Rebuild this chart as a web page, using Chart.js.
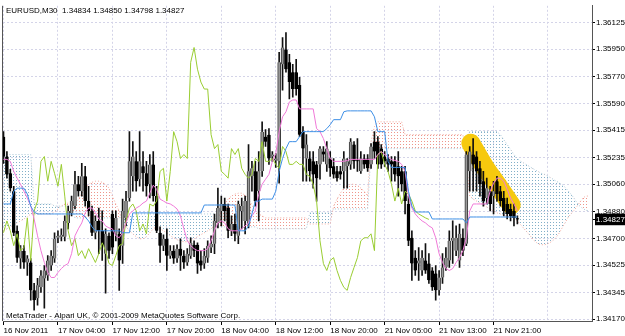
<!DOCTYPE html>
<html><head><meta charset="utf-8">
<script src="https://cdn.jsdelivr.net/npm/chart.js@4.4.1/dist/chart.umd.min.js"></script>
<style>html,body{margin:0;padding:0;background:#fff;}#wrap{width:625px;height:336px;}</style>
</head><body><div id="wrap"><canvas id="c" width="625" height="336"></canvas></div>
<script>
const symbolTitle = 'EURUSD,M30  1.34834 1.34850 1.34798 1.34827';
const footerText = 'MetaTrader - Alpari UK, \u00A9 2001-2009 MetaQuotes Software Corp.';
const xTickBars = [0,16,32,48,64,80,96,112,128,144,160];
const xTickLabels = ['16 Nov 2011','17 Nov 04:00','17 Nov 12:00','17 Nov 20:00','18 Nov 04:00','18 Nov 12:00','18 Nov 20:00','21 Nov 05:00','21 Nov 13:00','21 Nov 21:00'];
const yTickValues = [1.36125,1.35950,1.35770,1.35590,1.35415,1.35235,1.35060,1.34880,1.34700,1.34525,1.34345,1.34170];
const lastPrice = 1.34827;

const open = [1.35373,1.35242,1.35131,1.35013,1.34752,1.34569,1.34621,1.34543,1.34543,1.34359,
1.34307,1.34379,1.34438,1.34457,1.34523,1.34569,1.34706,1.34712,1.34712,1.34804,
1.34870,1.34915,1.35059,1.35013,1.35111,1.34948,1.34883,1.34739,1.34817,1.34752,
1.34601,1.34719,1.34863,1.34732,1.34732,1.34654,1.34837,1.34968,1.35111,1.35210,
1.35092,1.35177,1.35131,1.35059,1.35190,1.34981,1.34739,1.34654,1.34699,1.34588,
1.34621,1.34569,1.34634,1.34588,1.34543,1.34588,1.34660,1.34660,1.34556,1.34536,
1.34575,1.34641,1.34667,1.34804,1.34883,1.34929,1.34902,1.34752,1.34797,1.34719,
1.34883,1.34817,1.34797,1.35111,1.35144,1.35013,1.35144,1.35373,1.35386,1.35242,
1.35216,1.35210,1.35850,1.35948,1.35863,1.35798,1.35798,1.35713,1.35406,1.35229,
1.35229,1.35210,1.35190,1.35190,1.35275,1.35190,1.35229,1.35177,1.35144,1.35144,
1.35144,1.35177,1.35190,1.35321,1.35216,1.35144,1.35229,1.35229,1.35190,1.35340,
1.35340,1.35294,1.35242,1.35229,1.35210,1.35210,1.35177,1.35144,1.35144,1.34929,
1.34706,1.34575,1.34536,1.34490,1.34556,1.34536,1.34490,1.34471,1.34359,1.34444,
1.34510,1.34556,1.34686,1.34621,1.34556,1.34706,1.34667,1.35144,1.35255,1.35242,
1.35164,1.35079,1.34968,1.35013,1.34981,1.35079,1.35013,1.34968,1.34929,1.34896,
1.34883,1.34834];
const high = [1.35406,1.35275,1.35157,1.35046,1.34784,1.34654,1.34654,1.34588,1.34569,1.34405,
1.34438,1.34490,1.34523,1.34588,1.34621,1.34739,1.34752,1.34765,1.34850,1.34915,
1.34981,1.35144,1.35111,1.35197,1.35177,1.35046,1.34915,1.34850,1.34902,1.34883,
1.34765,1.34739,1.34883,1.34883,1.34765,1.34961,1.35013,1.35406,1.35340,1.35275,
1.35406,1.35275,1.35210,1.35255,1.35275,1.35046,1.34778,1.34726,1.34765,1.34654,
1.34654,1.34660,1.34699,1.34621,1.34634,1.34706,1.34686,1.34673,1.34621,1.34634,
1.34686,1.34719,1.34863,1.35033,1.34981,1.34968,1.34929,1.34850,1.34863,1.34948,
1.34968,1.34981,1.35321,1.35210,1.35210,1.35275,1.35471,1.35419,1.35426,1.35275,
1.35262,1.35929,1.36027,1.36060,1.35916,1.35850,1.35883,1.35765,1.35439,1.35386,
1.35275,1.35275,1.35210,1.35308,1.35308,1.35340,1.35275,1.35229,1.35177,1.35177,
1.35275,1.35229,1.35360,1.35340,1.35360,1.35275,1.35255,1.35255,1.35327,1.35406,
1.35373,1.35321,1.35275,1.35255,1.35242,1.35242,1.35275,1.35177,1.35177,1.34981,
1.34752,1.34621,1.34641,1.34621,1.34667,1.34601,1.34510,1.34523,1.34490,1.34601,
1.34641,1.34752,1.34817,1.34784,1.34797,1.34765,1.35275,1.35308,1.35360,1.35275,
1.35210,1.35144,1.35099,1.35046,1.35079,1.35111,1.35046,1.35013,1.34968,1.34929,
1.34929,1.34850];
const low = [1.35197,1.35099,1.35013,1.34719,1.34543,1.34503,1.34503,1.34457,1.34294,1.34229,
1.34261,1.34346,1.34242,1.34425,1.34490,1.34543,1.34673,1.34686,1.34686,1.34765,
1.34850,1.34896,1.34981,1.34981,1.34915,1.34850,1.34719,1.34699,1.34601,1.34556,
1.34340,1.34569,1.34601,1.34686,1.34359,1.34536,1.34784,1.34948,1.35013,1.35013,
1.35046,1.35013,1.34981,1.34968,1.34948,1.34739,1.34543,1.34621,1.34490,1.34569,
1.34536,1.34543,1.34490,1.34503,1.34523,1.34569,1.34582,1.34471,1.34490,1.34503,
1.34543,1.34608,1.34601,1.34771,1.34784,1.34817,1.34706,1.34719,1.34686,1.34667,
1.34765,1.34732,1.34771,1.35013,1.34915,1.34817,1.35111,1.35308,1.35190,1.35210,
1.35170,1.35066,1.35680,1.35798,1.35621,1.35634,1.35647,1.35373,1.35079,1.35079,
1.35079,1.35033,1.34948,1.35092,1.35210,1.35144,1.35111,1.35099,1.35079,1.35092,
1.35033,1.35033,1.35157,1.35164,1.35144,1.35131,1.35164,1.35144,1.35164,1.35229,
1.35164,1.35164,1.35177,1.35144,1.35079,1.35079,1.34981,1.35013,1.34863,1.34654,
1.34425,1.34457,1.34425,1.34457,1.34471,1.34405,1.34359,1.34294,1.34327,1.34405,
1.34490,1.34510,1.34536,1.34588,1.34510,1.34588,1.34654,1.35013,1.35013,1.35013,
1.34981,1.34915,1.34929,1.34883,1.34863,1.34948,1.34915,1.34850,1.34830,1.34817,
1.34784,1.34798];
const close = [1.35242,1.35124,1.35033,1.34739,1.34575,1.34621,1.34543,1.34569,1.34359,1.34294,
1.34392,1.34457,1.34490,1.34556,1.34588,1.34699,1.34719,1.34726,1.34817,1.34883,
1.34948,1.35059,1.35013,1.35111,1.34948,1.34883,1.34739,1.34817,1.34752,1.34654,
1.34732,1.34621,1.34641,1.34837,1.34556,1.34883,1.34948,1.35210,1.35242,1.35079,
1.35210,1.35131,1.35046,1.35190,1.34981,1.34752,1.34654,1.34699,1.34588,1.34621,
1.34569,1.34634,1.34588,1.34543,1.34601,1.34673,1.34621,1.34536,1.34523,1.34588,
1.34654,1.34667,1.34817,1.34902,1.34929,1.34883,1.34752,1.34797,1.34732,1.34929,
1.34915,1.34948,1.35144,1.35164,1.34948,1.35144,1.35406,1.35340,1.35229,1.35255,
1.35229,1.35863,1.35961,1.35818,1.35733,1.35687,1.35687,1.35386,1.35294,1.35321,
1.35144,1.35124,1.35099,1.35294,1.35255,1.35294,1.35164,1.35124,1.35099,1.35124,
1.35229,1.35210,1.35340,1.35210,1.35210,1.35229,1.35190,1.35164,1.35308,1.35275,
1.35190,1.35190,1.35210,1.35190,1.35190,1.35124,1.35111,1.35059,1.34948,1.34686,
1.34536,1.34490,1.34556,1.34575,1.34490,1.34425,1.34379,1.34359,1.34444,1.34510,
1.34575,1.34686,1.34706,1.34706,1.34732,1.34621,1.35255,1.35275,1.35190,1.35144,
1.35059,1.34948,1.35033,1.34929,1.35013,1.34994,1.34948,1.34883,1.34863,1.34850,
1.34837,1.34827];
const tenkan = [1.35223,1.35223,1.35210,1.35144,1.35099,1.35059,1.35013,1.34968,1.34915,1.34830,
1.34719,1.34621,1.34543,1.34477,1.34444,1.34444,1.34477,1.34503,1.34523,1.34536,
1.34601,1.34719,1.34765,1.34804,1.34870,1.34902,1.34902,1.34870,1.34830,1.34817,
1.34784,1.34771,1.34765,1.34719,1.34706,1.34739,1.34804,1.34863,1.34883,1.34902,
1.34915,1.34935,1.34948,1.35000,1.35053,1.35026,1.34961,1.34948,1.34935,1.34929,
1.34915,1.34896,1.34850,1.34765,1.34686,1.34654,1.34634,1.34621,1.34621,1.34621,
1.34634,1.34686,1.34752,1.34804,1.34817,1.34804,1.34765,1.34752,1.34752,1.34752,
1.34765,1.34784,1.34804,1.34850,1.34883,1.34994,1.35059,1.35092,1.35124,1.35210,
1.35262,1.35406,1.35504,1.35537,1.35602,1.35615,1.35615,1.35556,1.35556,1.35556,
1.35556,1.35556,1.35426,1.35406,1.35360,1.35294,1.35229,1.35210,1.35210,1.35210,
1.35210,1.35216,1.35223,1.35223,1.35223,1.35223,1.35223,1.35223,1.35223,1.35223,
1.35255,1.35275,1.35255,1.35242,1.35223,1.35216,1.35210,1.35190,1.35144,1.34981,
1.34902,1.34863,1.34837,1.34817,1.34804,1.34784,1.34771,1.34706,1.34601,1.34543,
1.34503,1.34490,1.34503,1.34543,1.34575,1.34621,1.34706,1.34883,1.34929,1.34929,
1.34929,1.34929,1.34929,1.35013,1.35066,1.35099,1.35099,1.35079,1.35026,1.34968,
1.34929,1.34883];
const kijun = [1.34929,1.34929,1.34929,1.35013,1.35033,1.35033,1.35033,1.34994,1.34915,1.34876,
1.34863,1.34863,1.34863,1.34863,1.34863,1.34863,1.34863,1.34863,1.34863,1.34863,
1.34863,1.34863,1.34863,1.34863,1.34843,1.34817,1.34778,1.34752,1.34752,1.34752,
1.34752,1.34752,1.34752,1.34752,1.34752,1.34739,1.34739,1.34739,1.34870,1.34870,
1.34870,1.34870,1.34870,1.34870,1.34870,1.34870,1.34870,1.34870,1.34870,1.34870,
1.34870,1.34870,1.34870,1.34870,1.34870,1.34870,1.34870,1.34870,1.34870,1.34922,
1.34922,1.34922,1.34922,1.34922,1.34922,1.34922,1.34922,1.34922,1.34922,1.34752,
1.34752,1.34752,1.34784,1.34863,1.34948,1.34948,1.34961,1.34961,1.34961,1.34961,
1.35013,1.35144,1.35229,1.35294,1.35340,1.35340,1.35340,1.35373,1.35406,1.35406,
1.35406,1.35406,1.35406,1.35406,1.35406,1.35426,1.35452,1.35485,1.35485,1.35485,
1.35537,1.35543,1.35543,1.35543,1.35543,1.35543,1.35543,1.35543,1.35543,1.35504,
1.35406,1.35406,1.35406,1.35210,1.35170,1.35170,1.35170,1.35170,1.35170,1.35013,
1.34915,1.34876,1.34876,1.34876,1.34876,1.34876,1.34830,1.34830,1.34830,1.34830,
1.34830,1.34830,1.34830,1.34830,1.34830,1.34830,1.34804,1.34843,1.34843,1.34843,
1.34843,1.34843,1.34843,1.34843,1.34843,1.34843,1.34843,1.34843,1.34843,1.34843,
1.34843,1.34843];
const senkouA = [1.34752,1.34765,1.34778,1.34791,1.34804,1.34817,1.34830,1.34843,1.34863,1.34863,
1.34863,1.34863,1.34863,1.34863,1.34863,1.34876,1.34896,1.34915,1.34929,1.34935,
1.34929,1.34929,1.34961,1.35000,1.35033,1.35059,1.35072,1.35079,1.35079,1.35072,
1.35059,1.35033,1.34981,1.34929,1.34883,1.34804,1.34778,1.34752,1.34732,1.34713,
1.34699,1.34699,1.34713,1.34739,1.34765,1.34778,1.34765,1.34752,1.34739,1.34719,
1.34706,1.34693,1.34686,1.34680,1.34680,1.34686,1.34699,1.34713,1.34726,1.34739,
1.34752,1.34765,1.34784,1.34830,1.34883,1.34929,1.34961,1.34981,1.34994,1.35000,
1.35000,1.34987,1.34961,1.34922,1.34883,1.34863,1.34850,1.34837,1.34837,1.34837,
1.34837,1.34837,1.34837,1.34837,1.34837,1.34837,1.34837,1.34837,1.34837,1.34837,
1.34797,1.34797,1.34797,1.34797,1.34797,1.34797,1.34797,1.34915,1.34961,1.35000,
1.35033,1.35053,1.35059,1.35059,1.35053,1.35033,1.35013,1.34981,1.35340,1.35439,
1.35471,1.35471,1.35471,1.35471,1.35471,1.35471,1.35471,1.35471,1.35386,1.35386,
1.35386,1.35386,1.35386,1.35386,1.35386,1.35386,1.35386,1.35386,1.35386,1.35386,
1.35386,1.35386,1.35386,1.35386,1.35386,1.35386,1.35210,1.34981,1.34961,1.34948,
1.34935,1.34922,1.34909,1.34896,1.34883,1.34870,1.34863,1.34857,1.34850,1.34843,
1.34830,1.34817,1.34791,1.34765,1.34739,1.34713,1.34686,1.34667,1.34660,1.34660,
1.34667,1.34680,1.34699,1.34726,1.34765,1.34804,1.34843,1.34870,1.34896,1.34929,
1.34961,1.34981,1.34981];
const senkouB = [1.35255,1.35255,1.35255,1.35255,1.35255,1.35255,1.35255,1.35255,1.35255,1.34929,
1.34929,1.34929,1.34929,1.34929,1.34929,1.34915,1.34915,1.34915,1.34915,1.34915,
1.34915,1.34837,1.34837,1.34837,1.34837,1.34837,1.34837,1.34837,1.34837,1.34837,
1.34837,1.34837,1.34837,1.34837,1.34837,1.34863,1.34863,1.34863,1.34863,1.34863,
1.34863,1.34863,1.34863,1.34863,1.34863,1.34863,1.34863,1.34863,1.34863,1.34863,
1.34863,1.34863,1.34863,1.34863,1.34863,1.34863,1.34863,1.34863,1.34863,1.34863,
1.34863,1.34863,1.34863,1.34778,1.34778,1.34778,1.34778,1.34778,1.34778,1.34778,
1.34778,1.34778,1.34778,1.34778,1.34778,1.34765,1.34765,1.34765,1.34765,1.34765,
1.34765,1.34765,1.34765,1.34765,1.34765,1.34765,1.34765,1.34765,1.34765,1.34765,
1.34870,1.34870,1.34870,1.34870,1.34870,1.34870,1.34870,1.34896,1.34896,1.34896,
1.34896,1.34896,1.34896,1.34896,1.34896,1.34896,1.34896,1.34896,1.35275,1.35294,
1.35294,1.35294,1.35294,1.35294,1.35294,1.35294,1.35294,1.35294,1.35294,1.35294,
1.35294,1.35294,1.35294,1.35294,1.35294,1.35294,1.35294,1.35294,1.35294,1.35294,
1.35294,1.35294,1.35294,1.35294,1.35294,1.35294,1.35373,1.35406,1.35406,1.35406,
1.35406,1.35406,1.35406,1.35406,1.35406,1.35406,1.35386,1.35353,1.35321,1.35288,
1.35255,1.35229,1.35210,1.35197,1.35184,1.35170,1.35157,1.35144,1.35131,1.35124,
1.35111,1.35099,1.35085,1.35072,1.35059,1.35040,1.35013,1.34987,1.34955,1.34922,
1.34902,1.34889,1.34883];
const highlightBars = [137.3,141.5,145.6,149.2];
const highlightPrices = [1.35330,1.35170,1.35040,1.34922];

const cv = document.getElementById('c');
const mainCtx = cv.getContext('2d');
function hatch(color){
  const p = document.createElement('canvas'); p.width = 3; p.height = 3;
  const g = p.getContext('2d'); g.fillStyle = color; g.fillRect(1,0,1,1);
  return mainCtx.createPattern(p,'repeat');
}
const salmonHatch = hatch('rgb(238,150,140)');
const thistleHatch = hatch('rgb(130,175,200)');
const gridColor = '#d4d4e8';

const pts = arr => arr.map((v,i)=>({x:i,y:v}));
const wickData = open.map((o,i)=>({x:i,y:[low[i],high[i]]}));
const bodyData = open.map((o,i)=>({x:i,y:[Math.min(o,close[i]),Math.max(o,close[i])]}));
const bodyColors = open.map((o,i)=> close[i] >= o ? '#9a9a9a' : '#000000');
const bodyBorders = open.map((o,i)=> close[i] >= o ? '#3a3a3a' : '#000000');
const chikouData = close.slice(26).map((v,i)=>({x:i,y:v}));
const highlightData = highlightBars.map((b,i)=>({x:b,y:highlightPrices[i]}));

const mtText = {
  id:'mtText',
  afterDraw(chart){
    const ctx = chart.ctx, a = chart.chartArea;
    ctx.save();
    ctx.strokeStyle = '#555'; ctx.lineWidth = 1;
    ctx.beginPath(); ctx.moveTo(a.left-0.5, a.top); ctx.lineTo(a.left-0.5, a.bottom); ctx.stroke();
    ctx.fillStyle = '#000'; ctx.font = '8px "Liberation Sans"'; ctx.textBaseline = 'alphabetic'; ctx.textAlign='left';
    ctx.fillText(symbolTitle, a.left+3, a.top+7);
    ctx.fillText(footerText, a.left+3, a.bottom-3);
    ctx.restore();
  }
};

Chart.defaults.font.family = '"Liberation Sans", Arial, sans-serif';
Chart.defaults.font.size = 8;
Chart.defaults.color = '#000';

new Chart(cv, {
  type:'bar',
  data:{ datasets:[
    {type:'bar', label:'wick', data:wickData, backgroundColor:'#111', barThickness:1, grouped:false, order:6},
    {type:'bar', label:'body', data:bodyData, backgroundColor:bodyColors, borderColor:bodyBorders, borderWidth:{left:1,right:1,top:0,bottom:0}, borderSkipped:false, barThickness:3, minBarLength:1, grouped:false, order:5},
    {type:'line', label:'Senkou A', data:pts(senkouA), borderColor:'#f2a89c', borderWidth:1, borderDash:[1,2], pointRadius:0, fill:{target:3, above:salmonHatch, below:thistleHatch}, order:9},
    {type:'line', label:'Senkou B', data:pts(senkouB), borderColor:'#a9c6d6', borderWidth:1, borderDash:[1,2], pointRadius:0, fill:false, order:9},
    {type:'line', label:'hl', data:highlightData, borderColor:'#f6c90e', borderWidth:19, borderCapStyle:'round', borderJoinStyle:'round', tension:0.3, pointRadius:0, fill:false, order:8},
    {type:'line', label:'Chikou', data:chikouData, borderColor:'#9acd32', borderWidth:1, pointRadius:0, fill:false, order:2},
    {type:'line', label:'Kijun', data:pts(kijun), borderColor:'#3d8fe6', borderWidth:1, pointRadius:0, fill:false, order:1},
    {type:'line', label:'Tenkan', data:pts(tenkan), borderColor:'#f07ad8', borderWidth:1, pointRadius:0, fill:false, order:1}
  ]},
  options:{
    responsive:false, animation:false, devicePixelRatio:1, events:[],
    layout:{padding:{left:3, top:3, right:0, bottom:0}},
    plugins:{legend:{display:false}, tooltip:{enabled:false}},
    scales:{
      x:{type:'linear', position:'bottom', min:-0.15, max:172.93, offset:false,
        afterBuildTicks:s=>{ s.ticks = xTickBars.map(v=>({value:v})); },
        afterFit:s=>{ s.height = 15; },
        grid:{offset:false, color:gridColor, tickColor:c=> (c.index < xTickLabels.length ? '#000' : 'rgba(0,0,0,0)'), tickLength:4, tickBorderDash:[], drawOnChartArea:true},
        border:{display:true, color:'#555', width:1, dash:[2,2]},
        ticks:{autoSkip:false, maxRotation:0, minRotation:0, align:'start', padding:1, color:'#000',
          callback:(v,i)=> xTickLabels[i] || ''}
      },
      y:{type:'linear', position:'right', min:1.34157, max:1.36236, beginAtZero:false,
        afterBuildTicks:s=>{ s.ticks = yTickValues.concat([lastPrice]).map(v=>({value:v})); },
        afterFit:s=>{ s.width = 33; },
        grid:{color:c=> (c.tick && c.tick.value===lastPrice ? 'rgba(0,0,0,0)' : gridColor), tickColor:'#000', tickLength:3, tickBorderDash:[]},
        border:{display:true, color:'#555', width:1, dash:[2,2]},
        ticks:{autoSkip:false, padding:1, callback:v=> Number(v).toFixed(5),
          color:c=> (c.tick && c.tick.value===lastPrice ? '#fff' : '#000'),
          showLabelBackdrop:c=> !!(c.tick && c.tick.value===lastPrice),
          backdropColor:'#000', backdropPadding:{top:1,bottom:1,left:1,right:3}}
      }
    }
  },
  plugins:[mtText]
});
</script>
</body></html>
